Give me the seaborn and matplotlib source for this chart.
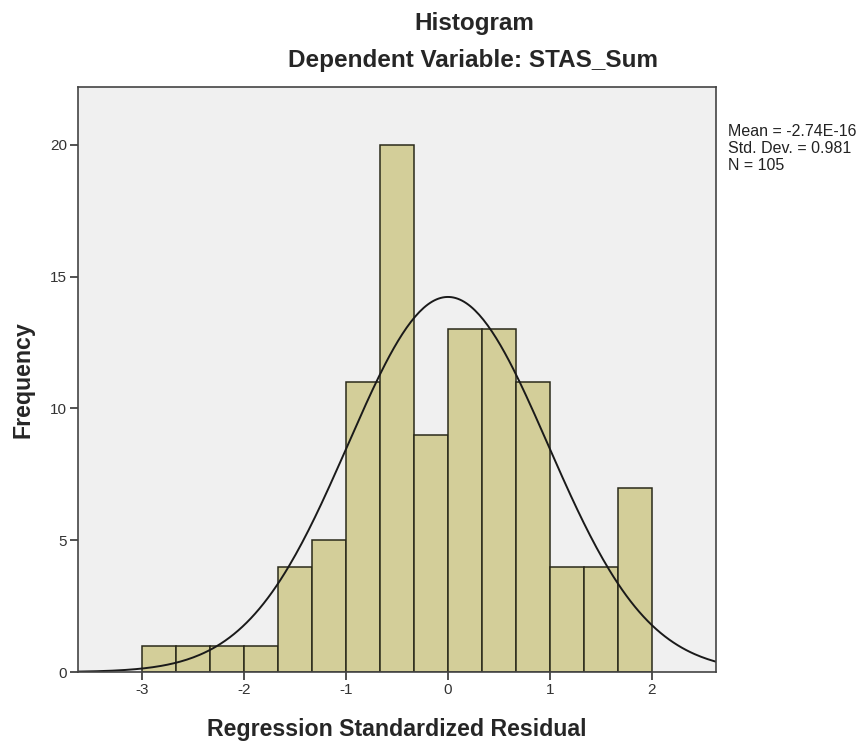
import numpy as np
import pandas as pd
import matplotlib
matplotlib.use('Agg')
import matplotlib.pyplot as plt
import seaborn as sns

# histogram of regression standardized residuals (SPSS style)
bin_left = -3.0
bin_width = 1.0 / 3.0
counts = [1, 1, 1, 1, 4, 5, 11, 20, 9, 13, 13, 11, 4, 4, 7]
mean_val = -2.74e-16
std_val = 0.981
n_obs = 105
stats_txt = ['Mean = -2.74E-16', 'Std. Dev. = 0.981', 'N = 105']

edges = [bin_left + bin_width * i for i in range(len(counts) + 1)]
centers = [(edges[i] + edges[i + 1]) / 2 for i in range(len(counts))]
df = pd.DataFrame({'resid': centers, 'freq': counts})

sns.set_style('white')
plt.rcParams['font.family'] = ['Liberation Sans', 'DejaVu Sans']
plt.rcParams['axes.unicode_minus'] = False

fig = plt.figure(figsize=(8.64, 7.47), dpi=100)
ax = fig.add_axes([0.0903, 0.1004, 0.7384, 0.7831])
ax.set_facecolor('#F0F0F0')

sns.histplot(data=df, x='resid', weights='freq', bins=edges, ax=ax,
             color='#D3CE99', edgecolor='#2a2a1a', linewidth=1.1, alpha=1)

# fitted normal curve
xs = np.linspace(-3.63, 2.63, 300)
ys = n_obs * bin_width * np.exp(-(xs - mean_val) ** 2 / (2 * std_val ** 2)) / (std_val * np.sqrt(2 * np.pi))
sns.lineplot(x=xs, y=ys, ax=ax, color='#1a1a1a', linewidth=1.4)

ax.set_xlim(-3.63, 2.63)
ax.set_ylim(0, 22.2)
ax.set_xticks([-3, -2, -1, 0, 1, 2])
ax.set_yticks([0, 5, 10, 15, 20])
ax.tick_params(axis='both', direction='out', length=6, width=1.2, color='#333333',
               labelsize=11, labelcolor='#333333', bottom=True, left=True, pad=2)
for s in ax.spines.values():
    s.set_color('#444444')
    s.set_linewidth(1.2)

ax.set_xlabel('Regression Standardized Residual', fontsize=16.7, fontweight='bold', labelpad=15)
ax.set_ylabel('Frequency', fontsize=16.7, fontweight='bold', labelpad=11)

fig.text(0.549, 1 - 30 / 747, 'Histogram', ha='center', va='baseline', fontsize=17.5, fontweight='bold')
fig.text(0.548, 1 - 67 / 747, 'Dependent Variable: STAS_Sum', ha='center', va='baseline',
         fontsize=17.5, fontweight='bold')
for i, line in enumerate(stats_txt):
    fig.text(728 / 864, 1 - (136 + 17 * i) / 747, line, ha='left', va='baseline',
             fontsize=11.5, color='#222222')

fig.savefig('out.png', dpi=100, facecolor='w')
